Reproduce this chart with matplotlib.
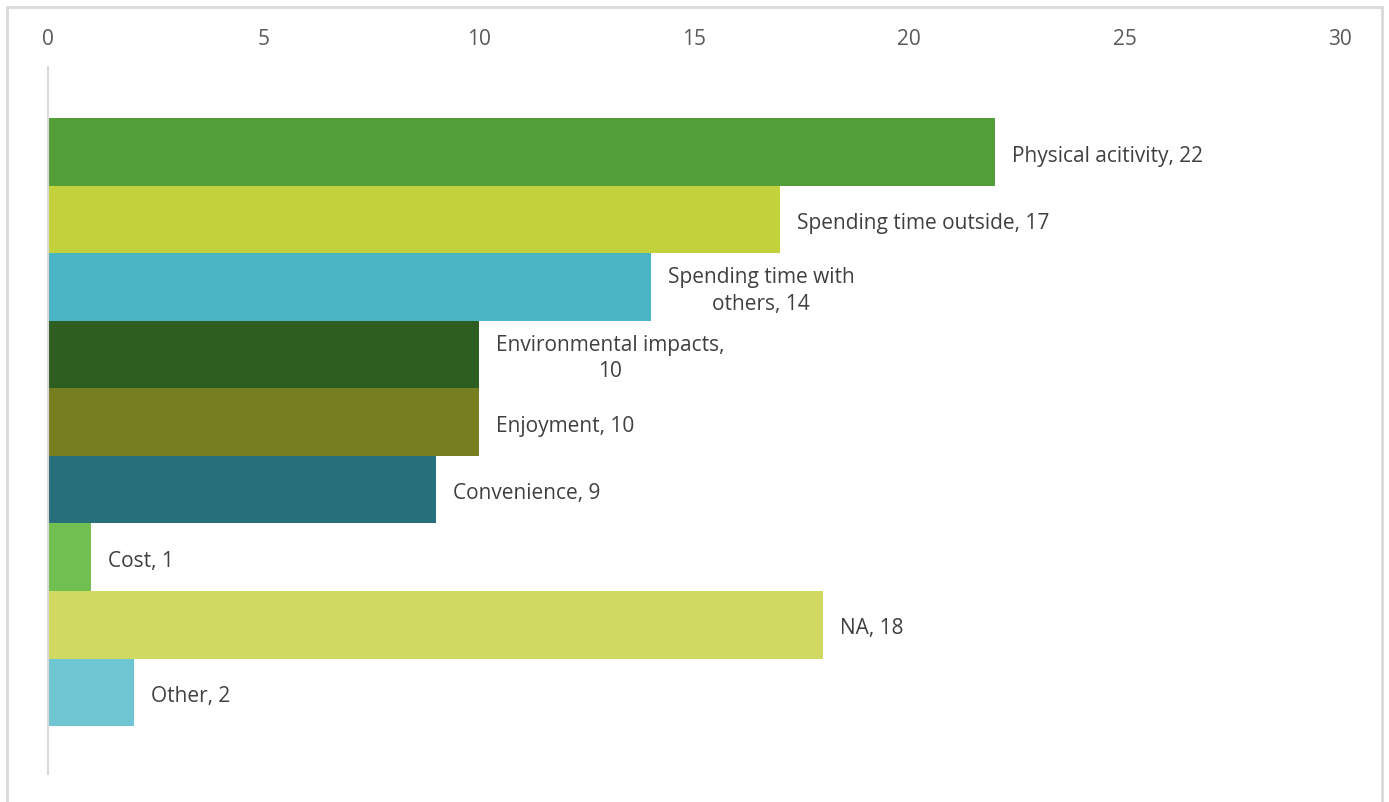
import matplotlib
matplotlib.use("Agg")
import matplotlib.pyplot as plt
from matplotlib.patches import Rectangle

label_names = ["Physical acitivity, ", "Spending time outside, ", "Spending time with\nothers, ",
               "Environmental impacts,\n", "Enjoyment, ", "Convenience, ", "Cost, ", "NA, ", "Other, "]
values = [22, 17, 14, 10, 10, 9, 1, 18, 2]
colors = ["#549e39", "#c3d13c", "#4ab5c4", "#2f5e23", "#757f20", "#276f7b",
          "#70bf50", "#d0da63", "#6fc5d1"]
xticks = [0, 5, 10, 15, 20, 25, 30]

plt.rcParams['font.family'] = ['Open Sans', 'DejaVu Sans']

fig = plt.figure(figsize=(13.89, 8.03), dpi=100)
W, H = 1389, 803
ax = fig.add_axes([48 / W, 1 - 775 / H, (1340 - 48) / W, (775 - 68) / H])

ypos = list(range(len(values)))
ax.barh(ypos, values, height=1.0, color=colors, linewidth=0)
ax.set_xlim(0, 30)
ax.set_ylim(9.21, -1.26)

ax.xaxis.tick_top()
ax.set_xticks(xticks)
ax.set_xticklabels([str(t) for t in xticks], fontsize=15, color="#595959")
ax.tick_params(axis='x', length=0, pad=13)
ax.set_yticks([])
for s in ["top", "right", "bottom"]:
    ax.spines[s].set_visible(False)
ax.spines["left"].set_color("#d9d9d9")
ax.spines["left"].set_linewidth(1.5)

for y, v, name in zip(ypos, values, label_names):
    ax.annotate(f"{name}{v}", xy=(v, y), xytext=(17, -3), textcoords="offset pixels",
                ha="left", va="center", multialignment="center", linespacing=1.35,
                fontsize=15, color="#404040")

fig.patches.append(Rectangle((7.5 / W, -0.01), (1382 - 7.5) / W, 1 - 7.5 / H + 0.01,
                             transform=fig.transFigure, fill=False,
                             edgecolor="#d9d9d9", linewidth=2))

fig.savefig("out.png", dpi=100)
